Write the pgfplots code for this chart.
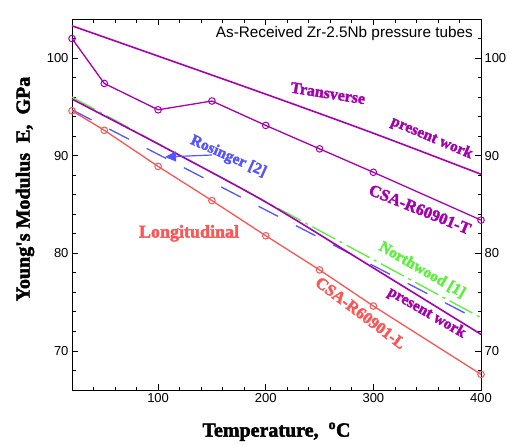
\documentclass[border=0pt]{standalone}
\usepackage{fontspec}
\setmainfont{Liberation Sans}
\newfontfamily\lserif{Liberation Serif}[BoldFeatures={FakeBold=2.2}]
\usepackage{pgfplots}
\pgfplotsset{compat=1.18}
\usetikzlibrary{arrows.meta}
\definecolor{cpurple}{RGB}{165,0,175}
\definecolor{cred}{RGB}{255,85,85}
\definecolor{cblue}{RGB}{85,85,255}
\definecolor{cgreen}{RGB}{90,240,60}
\newcommand{\lab}[1]{\lserif\bfseries\fontsize{#1}{#1}\selectfont}
\begin{document}
\begin{tikzpicture}
\useasboundingbox (-72pt,-54pt) rectangle (438pt,390pt);
\begin{axis}[
  width=409pt, height=371pt, scale only axis,
  xmin=20, xmax=400, ymin=66, ymax=104,
  xtick={100,200,300,400},
  minor xtick={40,60,80,120,140,160,180,220,240,260,280,320,340,360,380},
  ytick={70,80,90,100},
  minor ytick={66,68,72,74,76,78,82,84,86,88,92,94,96,98,102,104},
  tick align=inside, tick pos=both,
  xticklabel pos=lower, yticklabel pos=left,
  major tick length=6pt, minor tick length=3.5pt,
  axis line style={line width=1pt},
  every tick/.style={black, line width=0.8pt},
  tick label style={font=\fontsize{13}{15}\selectfont},
  /pgf/number format/assume math mode=true,
  xlabel={\lab{20}Temperature,\ \ \textsuperscript{o}C},
  ylabel={\lab{20}Young's Modulus\ \ E,\ \ GPa},
  every axis x label/.style={at={(axis description cs:0.5,-0.1124)}, anchor=center},
  every axis y label/.style={at={(axis description cs:-0.1149,0.5418)}, anchor=center, rotate=90},
  clip=false,
]
% Rosinger [2]
\addplot[cblue, line width=1.3pt, dash pattern=on 22pt off 20pt] coordinates {(20,94.7) (390,73.6)};
% Northwood [1]
\addplot[cgreen, line width=1.3pt, dash pattern=on 26pt off 5pt on 3pt off 5pt] coordinates {(20,96.0) (400,73.4)};
% Longitudinal present work
\addplot[cpurple, line width=1.6pt, smooth] coordinates {(20,95.8) (100,91.2) (200,85.25) (300,78.5) (400,71.7)};
% CSA-R60901-L
\addplot[cred, line width=1.3pt, mark=o, mark size=3.3pt, mark options={fill=white, line width=1pt}] coordinates {
(20,94.6) (50,92.6) (100,88.9) (150,85.4) (200,81.8) (250,78.3) (300,74.6) (400,67.6)};
% Transverse present work
\addplot[cpurple, line width=1.6pt, smooth] coordinates {(20,103.3) (100,100.2) (200,96.3) (300,92.3) (400,88.1)};
% CSA-R60901-T
\addplot[cpurple, line width=1.3pt, mark=o, mark size=3.3pt, mark options={fill=white, line width=1pt}] coordinates {
(20,102.0) (50,97.4) (100,94.7) (150,95.6) (200,93.1) (250,90.7) (300,88.3) (400,83.4)};

\draw[cblue, line width=1.2pt, -{Triangle[length=11pt,width=10pt]}] (axis cs:150.1,90.07) -- (axis cs:106.4,89.87);

\node[anchor=east, inner sep=0pt] at (axis cs:392.5,102.5) {\fontsize{15.3}{17}\selectfont As-Received Zr-2.5Nb pressure tubes};
\node[cpurple, rotate=-9, inner sep=0pt] at (axis cs:257.8,96.4) {\lab{16}Transverse};
\node[cpurple, rotate=-23, inner sep=0pt] at (axis cs:354.2,91.8) {\lab{15.5}present work};
\node[cpurple, rotate=-22, inner sep=0pt] at (axis cs:343.3,84.5) {\lab{16.5}CSA-R60901-T};
\node[cblue, rotate=-24, inner sep=0pt] at (axis cs:165.2,89.9) {\lab{15.5}Rosinger [2]};
\node[cred, inner sep=0pt] at (axis cs:128.7,82.05) {\lab{18}Longitudinal};
\node[cgreen, rotate=-30, inner sep=0pt] at (axis cs:345.4,78.3) {\lab{15.5}Northwood [1]};
\node[cpurple, rotate=-30, inner sep=0pt] at (axis cs:349.5,73.9) {\lab{15.5}present work};
\node[cred, rotate=-37, inner sep=0pt] at (axis cs:288.2,73.9) {\lab{16.5}CSA-R60901-L};
\end{axis}
\begin{axis}[
  width=409pt, height=371pt, scale only axis,
  xmin=20, xmax=400, ymin=66, ymax=104,
  xtick=\empty, ytick={70,80,90,100},
  ytick pos=right, yticklabel pos=right,
  major tick length=0pt,
  axis line style={draw=none},
  tick label style={font=\fontsize{13}{15}\selectfont},
  /pgf/number format/assume math mode=true,
]
\end{axis}
\end{tikzpicture}
\end{document}
